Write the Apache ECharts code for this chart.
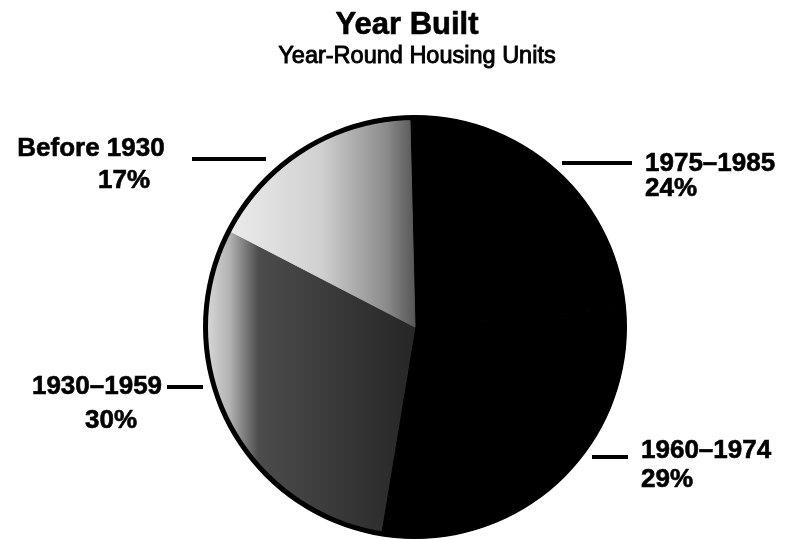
<!DOCTYPE html>
<html>
<head>
<meta charset="utf-8">
<script src="https://cdn.jsdelivr.net/npm/echarts@6/dist/echarts.min.js"></script>
<style>
  * { margin: 0; padding: 0; }
  body { background: #fff; }
</style>
</head>
<body>
<div id="chart" style="width: 788px;height: 539px;"></div>
<script>
  // data, clockwise from 12 o'clock
  const periods = ['1975–1985', '1960–1974', '1930–1959', 'Before 1930']
  const shares = [24, 29, 30, 17]

  // where each label sits and where its short leader line goes
  // [x, y, align, lineHeight, pctPadLeft, lineX1, lineX2, lineY]
  const labelSpots = [
    [645, 176, 'left', 25, 0, 562, 632, 163],
    [641, 465, 'left', 29, 0, 592, 628, 457],
    [97, 404, 'center', 34, 28, 167, 203, 387],
    [91, 165, 'center', 32, 66, 192, 266, 159]
  ]

  const font = 'Liberation Sans'

  const fills = [
    '#000',
    '#000',
    {
      type: 'linear', x: 0, y: 0, x2: 1, y2: 0,
      colorStops: [
        {offset: 0, color: '#dcdcdc'},
        {offset: 0.12, color: '#b4b4b4'},
        {offset: 0.26, color: '#4c4c4c'},
        {offset: 1, color: '#262626'}
      ]
    },
    {
      type: 'linear', x: 0, y: 0, x2: 1, y2: 0,
      colorStops: [
        {offset: 0, color: '#ececec'},
        {offset: 0.5, color: '#d0d0d0'},
        {offset: 0.85, color: '#8a8a8a'},
        {offset: 1, color: '#555'}
      ]
    }
  ]

  // bold print with a little ink spread
  const ink = {fontFamily: font, fontSize: 26, fontWeight: 'bold', color: '#000', textBorderColor: '#000', textBorderWidth: 0.6}
  const rich = {}
  labelSpots.forEach(function (s, i) {
    rich['n' + i] = Object.assign({}, ink, {lineHeight: s[3]})
    rich['p' + i] = Object.assign({}, ink, {lineHeight: s[3], padding: [0, 0, 0, s[4]]})
  })

  const chart = echarts.init(document.getElementById('chart'))
  chart.setOption({
    backgroundColor: '#fff',
    animation: false,
    title: [
      {
        text: 'Year Built',
        left: 407,
        textAlign: 'center',
        top: 10,
        padding: 0,
        textStyle: {fontFamily: font, fontSize: 31, fontWeight: 'bold', color: '#000', textBorderColor: '#000', textBorderWidth: 0.6}
      },
      {
        text: 'Year-Round Housing Units',
        left: 417,
        textAlign: 'center',
        top: 45,
        padding: 0,
        textStyle: {fontFamily: font, fontSize: 23.5, fontWeight: 'normal', color: '#000', textBorderColor: '#000', textBorderWidth: 0.9}
      }
    ],
    series: [
      {
        type: 'pie',
        center: [415, 327],
        radius: 211,
        startAngle: 91.4,
        clockwise: true,
        silent: true,
        data: periods.map(function (p, i) {
          return {name: p, value: shares[i], itemStyle: {color: fills[i], borderColor: fills[i], borderWidth: 1}}
        }),
        label: {
          show: true,
          position: 'outside',
          formatter: function (params) {
            const i = params.dataIndex
            return '{n' + i + '|' + params.name + '}\n{p' + i + '|' + params.value + '%}'
          },
          rich: rich
        },
        labelLine: {
          show: true,
          lineStyle: {color: '#000', width: 4}
        },
        labelLayout: function (params) {
          const s = labelSpots[params.dataIndex]
          return {
            x: s[0],
            y: s[1],
            align: s[2],
            verticalAlign: 'middle',
            labelLinePoints: [[s[5], s[7]], [(s[5] + s[6]) / 2, s[7]], [s[6], s[7]]]
          }
        }
      },
      {
        // heavy outline round the pie
        type: 'pie',
        center: [415, 327],
        radius: [207, 212],
        silent: true,
        label: {show: false},
        labelLine: {show: false},
        itemStyle: {color: '#000'},
        data: [{value: 1, name: 'outline'}]
      }
    ]
  })
</script>
</body>
</html>
